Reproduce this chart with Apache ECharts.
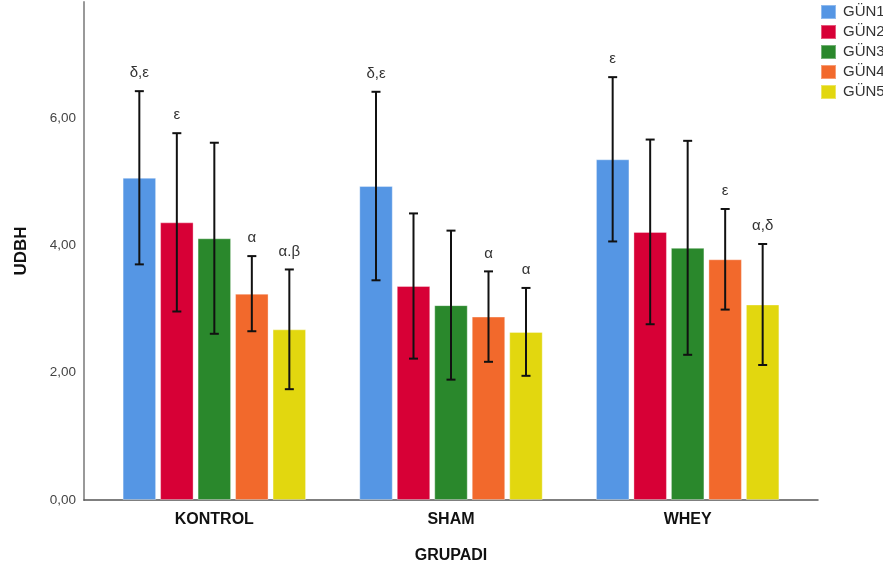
<!DOCTYPE html>
<html><head><meta charset="utf-8">
<script src="https://cdn.jsdelivr.net/npm/echarts@6/dist/echarts.min.js"></script>
<style>html,body{margin:0;padding:0;background:#fff}#c{width:883px;height:571px}</style>
</head><body><div id="c"></div>
<script>
const categories = ['KONTROL', 'SHAM', 'WHEY'];
const seriesNames = ['GÜN1', 'GÜN2', 'GÜN3', 'GÜN4', 'GÜN5'];
const gun1 = [5.06, 4.93, 5.35];
const gun2 = [4.36, 3.36, 4.21];
const gun3 = [4.11, 3.06, 3.96];
const gun4 = [3.24, 2.88, 3.78];
const gun5 = [2.68, 2.64, 3.07];
const err1 = [1.36, 1.48, 1.29];
const err2 = [1.40, 1.14, 1.45];
const err3 = [1.50, 1.17, 1.68];
const err4 = [0.59, 0.71, 0.79];
const err5 = [0.94, 0.69, 0.95];
const notes1 = ['δ,ε', 'δ,ε', 'ε'];
const notes2 = ['ε', '', ''];
const notes3 = ['', '', ''];
const notes4 = ['α', 'α', 'ε'];
const notes5 = ['α.β', 'α', 'α,δ'];
const yTicks = [0, 2, 4, 6];

const values = [gun1, gun2, gun3, gun4, gun5];
const errors = [err1, err2, err3, err4, err5];
const notes = [notes1, notes2, notes3, notes4, notes5];
const colors = ['#5596E4', '#D70036', '#2A882C', '#F2692C', '#E2D70F'];
const FONT = 'Liberation Sans, Arial, sans-serif';
const BW = 33.5, PITCH = 37.5;
const YMAX = 7.82;

const chart = echarts.init(document.getElementById('c'));
const series = [];
values.forEach((vals, i) => {
  series.push({
    name: seriesNames[i], type: 'bar', xAxisIndex: 0, yAxisIndex: 0,
    data: vals, barWidth: BW, barGap: ((PITCH - BW) / BW * 100).toFixed(1) + '%',
    itemStyle: { color: colors[i], borderColor: 'rgba(255,255,255,0.35)', borderWidth: 1 },
    emphasis: { disabled: true }, animation: false
  });
});
values.forEach((vals, i) => {
  const data = vals.map((v, k) => [k, v, errors[i][k], k]);
  series.push({
    type: 'custom', xAxisIndex: 0, yAxisIndex: 0, silent: true, animation: false,
    z: 5,
    data: data,
    encode: { x: 0, y: 1 },
    renderItem: function (params, api) {
      const k = api.value(0), v = api.value(1), e = api.value(2);
      const off = (i - 2) * PITCH;
      const top = api.coord([k, v + e]);
      const bot = api.coord([k, v - e]);
      const x = top[0] + off;
      const cap = 4.5;
      const st = { stroke: '#111', lineWidth: 2 };
      const children = [
        { type: 'line', shape: { x1: x, y1: top[1], x2: x, y2: bot[1] }, style: st },
        { type: 'line', shape: { x1: x - cap, y1: top[1], x2: x + cap, y2: top[1] }, style: st },
        { type: 'line', shape: { x1: x - cap, y1: bot[1], x2: x + cap, y2: bot[1] }, style: st }
      ];
      const txt = notes[i][k];
      if (txt) {
        children.push({ type: 'text', style: { x: x, y: top[1] - 18, text: txt,
          align: 'center', verticalAlign: 'middle', fill: '#333', font: '15px ' + FONT } });
      }
      return { type: 'group', children: children };
    }
  });
});

chart.setOption({
  animation: false,
  backgroundColor: '#fff',
  textStyle: { fontFamily: FONT },
  legend: {
    data: seriesNames, orient: 'vertical', left: 820, top: 4, padding: 0,
    itemWidth: 15, itemHeight: 14, itemGap: 4, icon: 'rect',
    textStyle: { fontSize: 15, color: '#333', fontFamily: FONT, padding: [0, 0, 0, 2] },
    selectedMode: false
  },
  grid: [
    { left: 96, right: 77, top: 2, bottom: 71 },
    { left: 84, right: 65, top: 2, bottom: 71 }
  ],
  xAxis: [
    { type: 'category', gridIndex: 0, data: categories,
      axisLine: { show: false }, axisTick: { show: false },
      axisLabel: { fontSize: 16, fontWeight: 'bold', color: '#111', margin: 12, fontFamily: FONT },
      name: 'GRUPADI', nameLocation: 'middle', nameGap: 48,
      nameTextStyle: { fontSize: 16, fontWeight: 'bold', color: '#111', fontFamily: FONT } },
    { type: 'value', gridIndex: 1, min: 0, max: 1,
      axisLine: { show: true, lineStyle: { color: '#555', width: 1.5 } },
      axisTick: { show: false }, axisLabel: { show: false }, splitLine: { show: false } }
  ],
  yAxis: [
    { type: 'value', gridIndex: 0, min: 0, max: YMAX, show: false, splitLine: { show: false } },
    { type: 'value', gridIndex: 1, min: 0, max: YMAX, interval: 2,
      axisLine: { show: true, lineStyle: { color: '#999', width: 2 } },
      axisTick: { show: false }, splitLine: { show: false },
      axisLabel: { fontSize: 13.5, color: '#444', margin: 8, showMaxLabel: false, fontFamily: FONT,
        formatter: function (v) { return yTicks.indexOf(v) >= 0 ? v.toFixed(2).replace('.', ',') : ''; } },
      name: 'UDBH', nameLocation: 'middle', nameGap: 54, nameRotate: 90,
      nameTextStyle: { fontSize: 17, fontWeight: 'bold', color: '#111', fontFamily: FONT } }
  ],
  series: series
});
</script></body></html>
